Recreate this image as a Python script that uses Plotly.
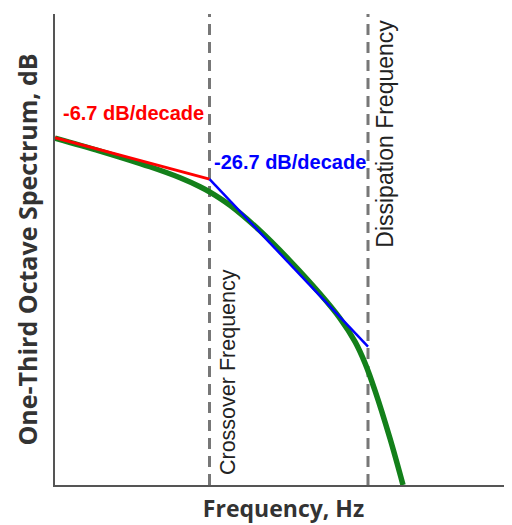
import plotly.graph_objects as go

# Frequency (Hz) and level (dB)
green_f = [10.6, 20.4, 42.1, 65.2, 87.1, 100.7, 134.7, 208.3, 322.1, 498.0, 665.8, 827.9, 957.4, 1107, 1377, 1663]
green_db = [55.25, 53.18, 50.68, 48.93, 47.50, 46.64, 44.54, 40.48, 35.70, 30.45, 26.54, 22.83, 19.41, 15.03, 7.39, 0.0]

red_f = [10.6, 100]
red_db = [55.3, 48.7]

blue_f = [100, 1000]
blue_db = [48.7, 22.05]

crossover_f = 100
dissipation_f = 1000

x_range_log = [1.0252, 3.9085]
y_range = [0, 75]

fig = go.Figure()

dash_col = "#777777"
for fx in [crossover_f, dissipation_f]:
    fig.add_trace(go.Scatter(x=[fx, fx], y=y_range, mode="lines",
                             line=dict(color=dash_col, width=3, dash="11px,7px"),
                             showlegend=False, hoverinfo="skip"))

fig.add_trace(go.Scatter(x=green_f, y=green_db, mode="lines",
                         line=dict(color="#13801a", width=5.5, shape="spline", smoothing=1.0),
                         showlegend=False))
fig.add_trace(go.Scatter(x=red_f, y=red_db, mode="lines",
                         line=dict(color="#ff0000", width=2.8), showlegend=False))
fig.add_trace(go.Scatter(x=blue_f, y=blue_db, mode="lines",
                         line=dict(color="#0000ff", width=2.5), showlegend=False))

ann_font = "Arial, Liberation Sans, sans-serif"
fig.add_annotation(x=1.063, y=59.2, xref="x", yref="y", text="<b>-6.7 dB/decade</b>",
                   showarrow=False, xanchor="left", yanchor="middle",
                   font=dict(family=ann_font, size=20, color="#ff0000"))
fig.add_annotation(x=2.0158, y=51.4, xref="x", yref="y", text="<b>-26.7 dB/decade</b>",
                   showarrow=False, xanchor="left", yanchor="middle",
                   font=dict(family=ann_font, size=20, color="#0000ff"))
fig.add_annotation(x=2.1167, y=1.27, xref="x", yref="y", text="Crossover Frequency",
                   showarrow=False, textangle=-90, xanchor="center", yanchor="bottom",
                   font=dict(family=ann_font, size=21.5, color="#222222"))
fig.add_annotation(x=3.107, y=74.4, xref="x", yref="y", text="Dissipation Frequency",
                   showarrow=False, textangle=-90, xanchor="center", yanchor="top",
                   font=dict(family=ann_font, size=23, color="#222222"))

# page body has an 8px margin, so the figure is sized/offset to compensate
fig.update_layout(
    width=504, height=516,
    margin=dict(l=47, r=0, t=6, b=39),
    paper_bgcolor="white", plot_bgcolor="white",
    showlegend=False,
    xaxis=dict(type="log", range=x_range_log, showgrid=False, zeroline=False,
               showticklabels=False, ticks="", showline=True, linecolor="#555555",
               linewidth=2, automargin=False,
               title=dict(text="<b>Frequency, Hz</b>",
                          font=dict(family="Open Sans, sans-serif", size=23, color="#333333"),
                          standoff=15)),
    yaxis=dict(range=y_range, showgrid=False, zeroline=False,
               showticklabels=False, ticks="", showline=True, linecolor="#555555",
               linewidth=2, automargin=False,
               title=dict(text="<b>One-Third Octave Spectrum, dB</b>",
                          font=dict(family="Open Sans, sans-serif", size=25, color="#333333"),
                          standoff=8)),
)

fig.write_html("out.html")
